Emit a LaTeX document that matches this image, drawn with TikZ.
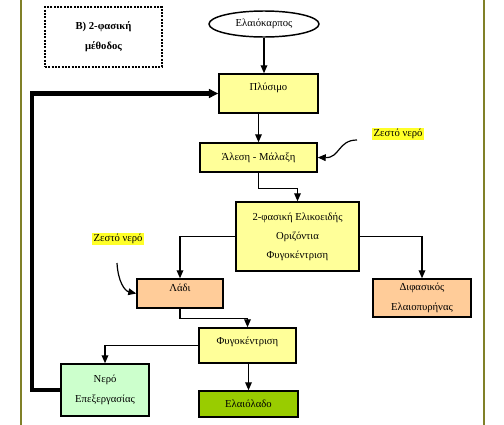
\documentclass[tikz,border=0pt]{standalone}
\usepackage{fontspec}
\setmainfont{Liberation Serif}
\usetikzlibrary{arrows.meta}
\usetikzlibrary{shapes.geometric}

\definecolor{boxyellow}{RGB}{255,255,153}
\definecolor{boxpeach}{RGB}{255,204,153}
\definecolor{boxmint}{RGB}{204,255,204}
\definecolor{oilgreen}{RGB}{153,204,0}
\definecolor{frameolive}{RGB}{128,128,40}
\definecolor{hilite}{RGB}{255,255,40}

\tikzset{
  procbox/.style={draw, line width=1.1pt, align=center, inner sep=0pt},
  toptext/.style={text height=6pt, text depth=#1},
  flow/.style={-{Triangle[length=6pt,width=5pt]}, line width=0.9pt},
  feedback/.style={-{Triangle[length=7pt,width=6.5pt]}, line width=3.2pt},
  hotwater/.style={fill=hilite, inner sep=0.8pt},
}

\begin{document}
\begin{tikzpicture}[x=0.75pt,y=0.75pt,yscale=-1,xscale=1,font=\fontsize{8}{15}\selectfont]
\useasboundingbox (0,0) rectangle (504,425);

%Frame
\draw [frameolive, line width=2.2pt] (21,0) -- (21,425) ;
\draw [frameolive, line width=2.2pt] (484,0) -- (484,425) ;

%Title box
\node [procbox, draw, dash pattern={on 1.6pt off 0.9pt}, line width=1.6pt, minimum width=87.75pt, minimum height=45pt] (method) at (103.5,37) {\bfseries Β) 2-φασική\\ \bfseries μέθοδος};

%Shapes
\node [draw, ellipse, line width=1.1pt, minimum width=82.5pt, minimum height=19.5pt, inner sep=0pt] (elaio) at (264,24) {Ελαιόκαρπος};
\node [procbox, fill=boxyellow, minimum width=74.25pt, minimum height=29.25pt, toptext=10.8pt] (plysimo) at (268.5,93.5) {Πλύσιμο};
\node [procbox, fill=boxyellow, minimum width=87.75pt, minimum height=21.75pt] (alesi) at (258.5,157.5) {Άλεση - Μάλαξη};
\node [procbox, fill=boxyellow, minimum width=92.25pt, minimum height=51.75pt, font=\fontsize{8}{14.25}\selectfont] (fyg2) at (297.5,236.5) {2-φασική Ελικοειδής\\Οριζόντια\\Φυγοκέντριση};
\node [procbox, fill=boxpeach, minimum width=64.5pt, minimum height=21.75pt, toptext=9.2pt] (ladi) at (180,293.5) {Λάδι};
\node [procbox, fill=boxpeach, minimum width=73.5pt, minimum height=28.5pt] (pyrinas) at (422,298) {Διφασικός\\Ελαιοπυρήνας};
\node [procbox, fill=boxyellow, minimum width=72.75pt, minimum height=26.25pt, toptext=7.8pt] (fyg) at (247.5,345.5) {Φυγοκέντριση};
\node [procbox, fill=boxmint, minimum width=66pt, minimum height=39pt] (nero) at (105,390) {Νερό\\Επεξεργασίας};
\node [procbox, fill=oilgreen, minimum width=74.25pt, minimum height=19.5pt] (oil) at (248.5,404) {Ελαιόλαδο};

% Text Node
\node [hotwater] (hw1) at (398,134) {Ζεστό νερό};
\node [hotwater] (hw2) at (118,239) {Ζεστό νερό};
\coordinate (hw1start) at (357,140);
\coordinate (hw2start) at (117,263);

%Connectors
\draw [flow] (elaio.south) -- (elaio.south |- plysimo.north) ;
\draw [flow] (plysimo.south -| alesi.north) -- (alesi.north) ;
\draw [flow] (alesi.south) -- ++(0,16) -| (fyg2.north) ;
\draw [flow] (fyg2.west) -| (ladi.north) ;
\draw [flow] (fyg2.east) -| (pyrinas.north) ;
\draw [flow] (ladi.south) -- ++(0,10) -| (fyg.north) ;
\draw [flow] (fyg.west) -| (nero.north) ;
\draw [flow] (fyg.south -| oil.north) -- (oil.north) ;
\draw [feedback] (nero.west) -- ++(-28,0) |- (plysimo.west) ;

%Curves
\draw [flow] (hw1start) .. controls (338,140) and (340,158) .. (alesi.east) ;
\draw [flow] (hw2start) .. controls (118,282) and (125,291) .. (ladi.west) ;

\end{tikzpicture}
\end{document}
